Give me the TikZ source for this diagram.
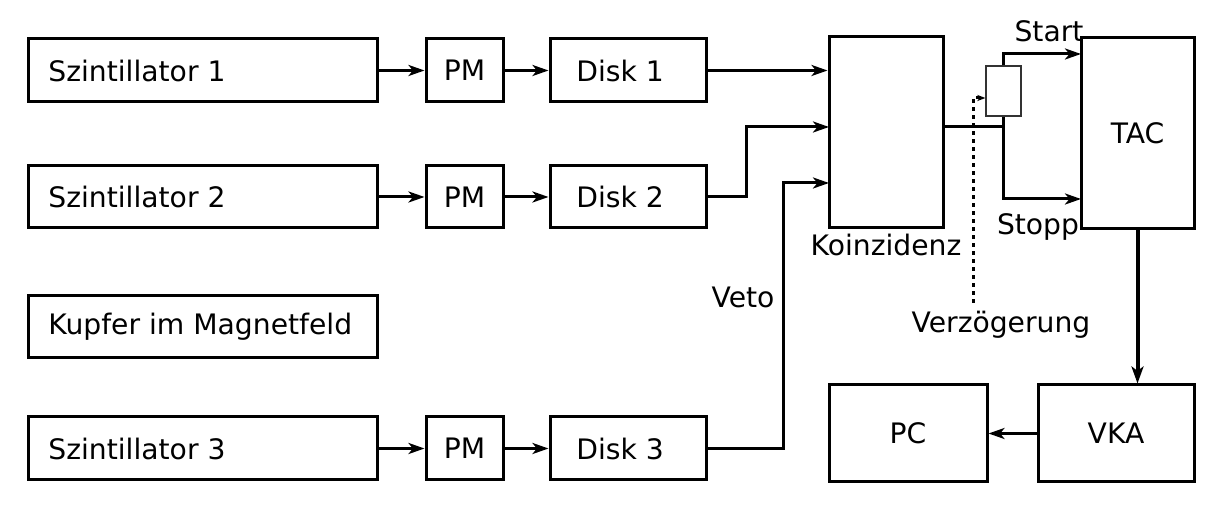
\documentclass[tikz,border=0pt]{standalone}
\usepackage{fontspec}
\setmainfont{DejaVu Sans}
\usetikzlibrary{arrows.meta}
\begin{document}
\begin{tikzpicture}[x=0.5pt,y=-0.5pt,
  every node/.style={font=\fontsize{14.1pt}{16pt}\selectfont},
  box/.style={draw=black,line width=1.5pt,inner sep=0pt,minimum width=#1},
  lbl/.style={inner sep=0pt,anchor=west},
  tag/.style={inner sep=0pt},
  conn/.style={line width=1.5pt,-{Stealth[length=8pt,width=5.5pt,inset=2.2pt]}},
  wire/.style={line width=1.5pt},
  dotline/.style={line width=1.5pt,dash pattern=on 2pt off 2pt,-{Stealth[length=4pt,width=3pt,inset=1pt]}}]
\useasboundingbox (0,0) rectangle (1208,506);
% row 1
\node[box=174.5pt,minimum height=31.5pt] (s1) at (202.5,70.5) {};
\node[lbl] (s1t) at (48,70.5) {Szintillator 1};
\node[box=38.5pt,minimum height=31.5pt] (pm1) at (464.5,70.5) {PM};
\node[box=78pt,minimum height=31.5pt] (d1) at (628,70.5) {};
\node[lbl] (d1t) at (576,70.5) {Disk 1};
% row 2
\node[box=174.5pt,minimum height=31pt] (s2) at (202.5,197) {};
\node[lbl] (s2t) at (48,197) {Szintillator 2};
\node[box=38.5pt,minimum height=31pt] (pm2) at (464.5,197) {PM};
\node[box=78pt,minimum height=31pt] (d2) at (628,197) {};
\node[lbl] (d2t) at (576,197) {Disk 2};
% row 3
\node[box=174.5pt,minimum height=31pt] (cu) at (202.5,326.5) {};
\node[lbl] (cut) at (48,326.5) {Kupfer im Magnetfeld};
% row 4
\node[box=174.5pt,minimum height=31.5pt] (s3) at (202.5,448.5) {};
\node[lbl] (s3t) at (48,448.5) {Szintillator 3};
\node[box=38.5pt,minimum height=31.5pt] (pm3) at (464.5,448.5) {PM};
\node[box=78pt,minimum height=31.5pt] (d3) at (628,448.5) {};
\node[lbl] (d3t) at (576,448.5) {Disk 3};
% right part
\node[box=57pt,minimum height=95.5pt] (k) at (886,132.5) {};
\node[tag] (kt) at (886,245) {Koinzidenz};
\node[box=56.5pt,minimum height=95.5pt] (tac) at (1137.5,133.5) {TAC};
\node[box=79pt,minimum height=48.5pt] (pc) at (908,433.5) {PC};
\node[box=78pt,minimum height=48.5pt] (vka) at (1116,433.5) {VKA};
\node[draw=black!80,line width=0.6pt,inner sep=0pt,minimum width=17.5pt,minimum height=25pt] (del) at (1003.5,91) {};
\node[tag] (start) at (1049,31) {Start};
\node[tag] (stopp) at (1038,227) {Stopp};
\node[tag] (veto) at (743,297) {Veto};
\node[tag] (verz) at (1001,325) {Verzögerung};
% connectors
\draw[conn] (s1.east) -- (pm1.west);
\draw[conn] (pm1.east) -- (d1.west);
\draw[conn] (d1.east) -- (d1.east -| k.west);
\draw[conn] (s2.east) -- (pm2.west);
\draw[conn] (pm2.east) -- (d2.west);
\coordinate (k2) at (829,127);
\draw[conn] (d2.east) -- (746,197) -- (746,127) -- (k2);
\draw[conn] (s3.east) -- (pm3.west);
\draw[conn] (pm3.east) -- (d3.west);
\coordinate (k3) at (829,183);
\draw[conn] (d3.east) -- (783,448.5) -- (783,183) -- (k3);
\coordinate (j) at (1003.5,127);
\draw[wire] (943,127) -- (j) -- (del.south);
\coordinate (tstart) at (1081,54);
\draw[conn] (del.north) -- (1003.5,54) -- (tstart);
\coordinate (tstop) at (1081,199);
\draw[conn] (j) -- (1003.5,199) -- (tstop);
\draw[line width=2pt,-{Stealth[length=8.5pt,width=6pt,inset=2.2pt]}] (tac.south) -- (tac.south |- vka.north);
\draw[conn] (vka.west) -- (pc.east);
\coordinate (dd) at (973,303);
\draw[dotline] (dd) -- (973,98) -- (del.west |- 0,98);
\end{tikzpicture}
\end{document}
